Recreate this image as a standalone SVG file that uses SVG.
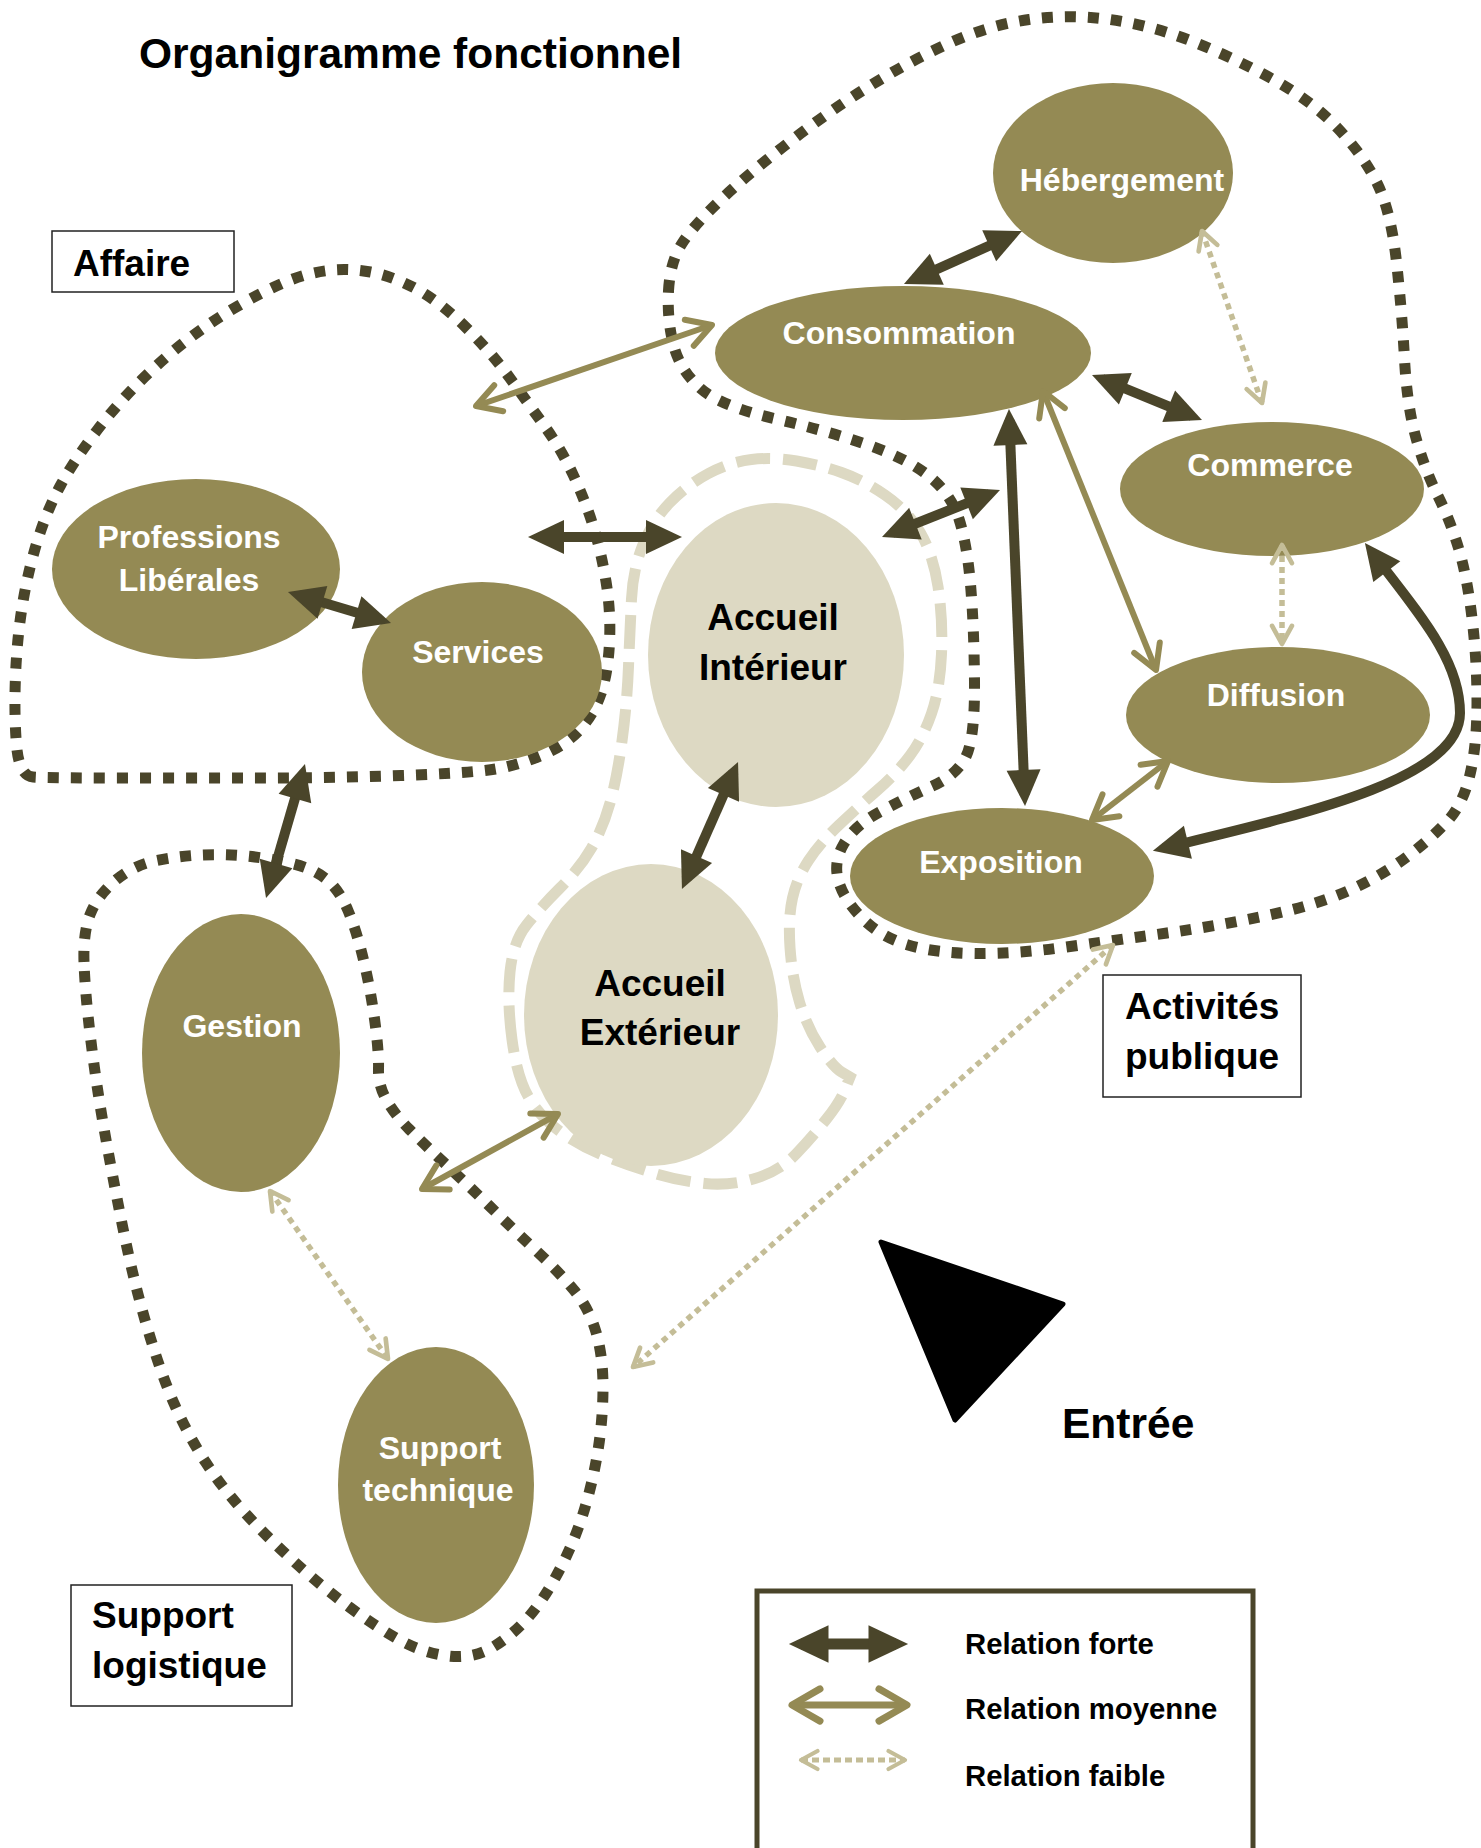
<svg xmlns="http://www.w3.org/2000/svg" width="1481" height="1848" viewBox="0 0 1481 1848">
<style>
.blob{fill:none;stroke:#4A452A;stroke-width:11;stroke-dasharray:11 12}
.zone{fill:none;stroke:#DDD9C3;stroke-width:11;stroke-dasharray:34 13}
.n{fill:#948A54}
.nl{fill:#DDD9C3}
.t{font-family:"Liberation Sans",Arial,sans-serif;font-weight:bold}
.tw{fill:#fff;font-size:32px;text-anchor:middle}
.tb{fill:#000;font-size:37px;text-anchor:middle}
.lab{fill:#000;font-size:37px}
.leg{fill:#000;font-size:29.3px}
.box{fill:#fff;stroke:#222;stroke-width:1.5}
.strong{fill:none;stroke:#4A452A;stroke-width:10;marker-start:url(#hs);marker-end:url(#hs)}
.medium{fill:none;stroke:#948A54;stroke-width:6;marker-start:url(#hm);marker-end:url(#hm)}
.weak{fill:none;stroke:#C4BD97;stroke-width:5.5;stroke-dasharray:6 5;marker-start:url(#hw);marker-end:url(#hw)}
</style>
<defs>
<marker id="hs" markerUnits="strokeWidth" orient="auto-start-reverse" refX="2.5" refY="0" markerWidth="4" markerHeight="4" overflow="visible"><path d="M0,-1.7 L3.6,0 L0,1.7 Z" fill="#4A452A"/></marker>
<marker id="hm" markerUnits="strokeWidth" orient="auto-start-reverse" refX="0" refY="0" markerWidth="6" markerHeight="6" overflow="visible"><path d="M-4,-2.3 L0,0 L-4,2.3" fill="none" stroke="#948A54" stroke-width="1" stroke-linecap="round" stroke-linejoin="round"/></marker>
<marker id="hw" markerUnits="strokeWidth" orient="auto-start-reverse" refX="0" refY="0" markerWidth="6" markerHeight="6" overflow="visible"><path d="M-3.3,-1.8 L0,0 L-3.3,1.8" fill="none" stroke="#C4BD97" stroke-width="0.85" stroke-dasharray="none" stroke-linecap="round" stroke-linejoin="round"/></marker>
</defs>
<rect width="1481" height="1848" fill="#fff"/>

<g id="groups">
<path id="zone-affaire" class="blob" d="M33,777 Q19,776 16.5,745 Q14,714 15.5,676 Q17,638 22.5,604.5 Q28,571 37.5,540.5 Q47,510 61,484.5 Q75,459 96.5,431 Q118,403 141.5,380 Q165,357 188.5,339 Q212,321 238,306 Q264,291 285.5,282 Q307,273 328,270.5 Q349,268 370.5,272 Q392,276 415.5,288.5 Q439,301 465,326.5 Q491,352 509.5,377.5 Q528,403 544.5,426 Q561,449 573,474.5 Q585,500 593,525.5 Q601,551 606,581.5 Q611,612 609.5,642.5 Q608,673 601,693.5 Q594,714 580,729.5 Q566,745 542.5,755 Q519,765 495.5,769 Q472,773 401,775.5 Q330,778 259.5,778 Q189,778 118,778 Q47,778 33,777 Z"/>
<path id="zone-activites" class="blob" d="M668.5,291 Q670,262 682,243.5 Q694,225 720.5,200 Q747,175 787.5,143.5 Q828,112 868,87 Q908,62 948.5,43.5 Q989,25 1029,19.5 Q1069,14 1109.5,19.5 Q1150,25 1190,40.5 Q1230,56 1270.5,78 Q1311,100 1337.5,128 Q1364,156 1377.5,184 Q1391,212 1396.5,262 Q1402,312 1404.5,359 Q1407,406 1416,438 Q1425,470 1437.5,495 Q1450,520 1458.5,548 Q1467,576 1472,618 Q1477,660 1477,702.5 Q1477,745 1470,774.5 Q1463,804 1448,820.5 Q1433,837 1408,856 Q1383,875 1350,890 Q1317,905 1267,915.5 Q1217,926 1167,933 Q1117,940 1066.5,947 Q1016,954 975.5,953.5 Q935,953 908,945 Q881,937 862.5,918.5 Q844,900 838.5,881 Q833,862 844,843.5 Q855,825 881.5,811 Q908,797 932.5,786 Q957,775 966,756.5 Q975,738 974.5,681.5 Q974,625 970.5,584.5 Q967,544 959,519 Q951,494 929.5,476.5 Q908,459 868,445 Q828,431 774,418.5 Q720,406 700,388 Q680,370 673.5,345 Q667,320 668.5,291 Z"/>
<path id="zone-support" class="blob" d="M84,962 Q83,932 90.5,913.5 Q98,895 116,880 Q134,865 156.5,860.5 Q179,856 201,855 Q223,854 245.5,856 Q268,858 290,863 Q312,868 325.5,878.5 Q339,889 348,910.5 Q357,932 364,962 Q371,992 375,1022.5 Q379,1053 378.5,1069 Q378,1085 386.5,1100 Q395,1115 409.5,1129.5 Q424,1144 446.5,1165 Q469,1186 491,1207.5 Q513,1229 535.5,1250 Q558,1271 573.5,1289.5 Q589,1308 596,1332 Q603,1356 603,1386.5 Q603,1417 598.5,1447 Q594,1477 585,1507.5 Q576,1538 560.5,1568 Q545,1598 529,1616.5 Q513,1635 493,1647 Q473,1659 448.5,1656 Q424,1653 401.5,1641 Q379,1629 350,1607.5 Q321,1586 294.5,1562 Q268,1538 245.5,1513.5 Q223,1489 205.5,1462 Q188,1435 174.5,1404.5 Q161,1374 147.5,1328.5 Q134,1283 123,1228.5 Q112,1174 104,1128.5 Q96,1083 90.5,1037.5 Q85,992 84,962 Z"/>
<path id="zone-accueil" class="zone" d="M512,1039.5 Q507,1002 510,972 Q513,942 526.5,925 Q540,908 560,888 Q580,868 591.5,848 Q603,828 610,803 Q617,778 622,741 Q627,704 628.5,666.5 Q630,629 631.5,599 Q633,569 643,544.5 Q653,520 670,502.5 Q687,485 708.5,473.5 Q730,462 751.5,459.5 Q773,457 796.5,461 Q820,465 841.5,472.5 Q863,480 885,495 Q907,510 920,532 Q933,554 938,586.5 Q943,619 941.5,654 Q940,689 931.5,713.5 Q923,738 910,755.5 Q897,773 877,790.5 Q857,808 838.5,825.5 Q820,843 808.5,860.5 Q797,878 792.5,898 Q788,918 790,947.5 Q792,977 799.5,1002 Q807,1027 820,1047 Q833,1067 841.5,1072 L850,1077 L845,1089.5 Q840,1102 826.5,1119 Q813,1136 796.5,1153.5 Q780,1171 755,1178.5 Q730,1186 705,1183.5 Q680,1181 655,1173.5 Q630,1166 605,1156 Q580,1146 560,1131.5 Q540,1117 528.5,1097 Q517,1077 512,1039.5 Z"/>
</g>

<g id="node-hebergement"><ellipse class="n" cx="1113" cy="173" rx="120" ry="90"/><text class="t tw" x="1122" y="191">Hébergement</text></g>
<g id="node-consommation"><ellipse class="n" cx="903" cy="353" rx="188" ry="67"/><text class="t tw" x="899" y="344">Consommation</text></g>
<g id="node-commerce"><ellipse class="n" cx="1272" cy="489" rx="152" ry="67"/><text class="t tw" x="1270" y="476">Commerce</text></g>
<g id="node-diffusion"><ellipse class="n" cx="1278" cy="715" rx="152" ry="68"/><text class="t tw" x="1276" y="706">Diffusion</text></g>
<g id="node-exposition"><ellipse class="n" cx="1002" cy="876" rx="152" ry="68"/><text class="t tw" x="1001" y="873">Exposition</text></g>
<g id="node-accueil-interieur"><ellipse class="nl" cx="776" cy="655" rx="128" ry="152"/><text class="t tb" x="773" y="630">Accueil</text><text class="t tb" x="773" y="680">Intérieur</text></g>
<g id="node-accueil-exterieur"><ellipse class="nl" cx="651" cy="1015" rx="127" ry="151"/><text class="t tb" x="660" y="996">Accueil</text><text class="t tb" x="660" y="1045">Extérieur</text></g>
<g id="node-professions"><ellipse class="n" cx="196" cy="569" rx="144" ry="90"/><text class="t tw" x="189" y="548">Professions</text><text class="t tw" x="189" y="591">Libérales</text></g>
<g id="node-services"><ellipse class="n" cx="482" cy="672" rx="120" ry="90"/><text class="t tw" x="478" y="663">Services</text></g>
<g id="node-gestion"><ellipse class="n" cx="241" cy="1053" rx="99" ry="139"/><text class="t tw" x="242" y="1037">Gestion</text></g>
<g id="node-support-technique"><ellipse class="n" cx="436" cy="1485" rx="98" ry="138"/><text class="t tw" x="440" y="1459">Support</text><text class="t tw" x="438" y="1501">technique</text></g>

<g id="connectors">
<line class="strong" x1="914" y1="279.5" x2="1012" y2="235.5"/>
<line class="strong" x1="1102.2" y1="379.2" x2="1191.8" y2="415.8"/>
<line class="strong" x1="1009.4" y1="420" x2="1024.6" y2="795"/>
<line class="strong" x1="892.2" y1="532.9" x2="989.8" y2="494.1"/>
<line class="strong" x1="539" y1="537" x2="671" y2="537"/>
<line class="strong" x1="298.5" y1="595.2" x2="380.5" y2="619.8"/>
<line class="strong" x1="733.6" y1="772.1" x2="686.4" y2="878.9"/>
<line class="strong" x1="301.9" y1="774.6" x2="269.1" y2="887.4"/>
<path class="strong" d="M1163.6,848.1 C1300,815 1460,780 1460,713 C1460,660 1420,615 1371.6,551.8"/>
<line class="medium" x1="476" y1="406" x2="712" y2="325"/>
<line class="medium" x1="1043" y1="391" x2="1156" y2="670"/>
<line class="medium" x1="1168" y1="761" x2="1092" y2="820"/>
<line class="medium" x1="422" y1="1189" x2="558" y2="1114"/>
<line class="weak" x1="1202" y1="231" x2="1262" y2="403"/>
<line class="weak" x1="1282" y1="545" x2="1282" y2="644"/>
<line class="weak" x1="270" y1="1191" x2="388" y2="1359"/>
<line class="weak" x1="1113" y1="945" x2="633" y2="1367"/>
</g>

<g id="labels">
<text class="t" x="139" y="68" font-size="42.5" fill="#000">Organigramme fonctionnel</text>
<g id="label-affaire"><rect class="box" x="52" y="231" width="182" height="61"/><text class="t lab" x="73" y="276">Affaire</text></g>
<g id="label-activites"><rect class="box" x="1103" y="975" width="198" height="122"/><text class="t lab" x="1125" y="1019">Activités</text><text class="t lab" x="1125" y="1069">publique</text></g>
<g id="label-support"><rect class="box" x="71" y="1585" width="221" height="121"/><text class="t lab" x="92" y="1628">Support</text><text class="t lab" x="92" y="1678">logistique</text></g>
<g id="entree"><polygon points="881,1242 1063,1304 955,1420" fill="#000" stroke="#000" stroke-width="5" stroke-linejoin="round"/><text class="t" x="1062" y="1438" font-size="42.5" fill="#000">Entrée</text></g>
</g>

<g id="legend">
<rect x="757" y="1591" width="496" height="300" fill="none" stroke="#4A452A" stroke-width="5"/>
<line class="strong" style="stroke-width:11" x1="801" y1="1644" x2="896" y2="1644"/>
<line class="medium" style="stroke-width:7" x1="792" y1="1705" x2="907" y2="1705"/>
<line class="weak" style="stroke-width:5;stroke-dasharray:7 4" x1="801" y1="1760" x2="905" y2="1760"/>
<text class="t leg" x="965" y="1654">Relation forte</text>
<text class="t leg" x="965" y="1719">Relation moyenne</text>
<text class="t leg" x="965" y="1786">Relation faible</text>
</g>
</svg>
